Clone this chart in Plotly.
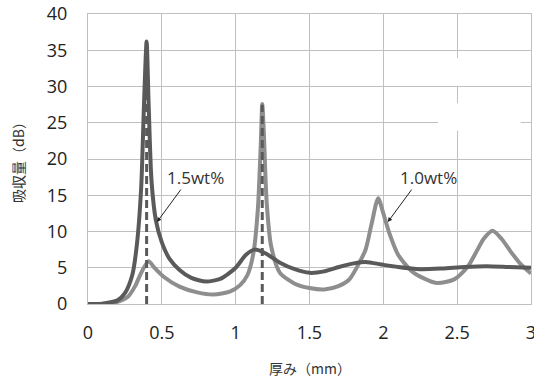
import plotly.graph_objects as go

# 1.5wt% (dark curve)
x15 = [0, 0.1, 0.2, 0.25, 0.3, 0.33, 0.36, 0.38, 0.397, 0.41, 0.43, 0.46, 0.5, 0.55, 0.62, 0.7, 0.8,
       0.9, 1.0, 1.07, 1.13, 1.2, 1.3, 1.4, 1.5, 1.6, 1.7, 1.8, 1.88, 2.0, 2.1, 2.25, 2.4, 2.55, 2.7, 2.85, 3.0]
y15 = [0, 0.05, 0.5, 1.5, 4.0, 8.0, 16.0, 28.0, 36.2, 28.0, 17.0, 11.5, 8.5, 6.3, 4.7, 3.6, 3.1,
       3.5, 5.0, 6.8, 7.5, 7.0, 5.7, 4.8, 4.3, 4.5, 5.1, 5.6, 5.8, 5.4, 5.1, 4.8, 4.9, 5.1, 5.2, 5.1, 5.0]

# 1.0wt% (light curve)
x10 = [0, 0.1, 0.2, 0.27, 0.32, 0.36, 0.41, 0.45, 0.51, 0.62, 0.74, 0.85, 0.96, 1.03, 1.08, 1.12, 1.15,
       1.17, 1.18, 1.19, 1.21, 1.24, 1.3, 1.4, 1.5, 1.6, 1.7, 1.77, 1.84, 1.88, 1.92, 1.965, 2.0, 2.04,
       2.1, 2.2, 2.36, 2.48, 2.57, 2.63, 2.68, 2.74, 2.8, 2.86, 2.93, 3.0]
y10 = [0, 0.05, 0.3, 1.0, 2.5, 4.3, 5.9, 5.0, 3.8, 2.4, 1.6, 1.3, 1.7, 2.6, 4.0, 7.0, 13.0,
       22.0, 27.6, 24.0, 14.0, 8.0, 4.3, 2.8, 2.2, 2.0, 2.5, 3.4, 5.8, 7.5, 11.0, 14.6, 12.5, 9.8,
       6.8, 4.4, 2.9, 3.4, 5.1, 7.2, 9.0, 10.1, 9.0, 7.3, 5.5, 4.2]

# dashed marker lines (x position, height)
dash_x = [0.397, 1.18]
dash_top = [36.0, 27.5]

# labels: text, arrow tip (data), label centre (data)
label_text = ["1.5wt%", "1.0wt%"]
label_tip_x = [0.467, 2.03]
label_tip_y = [11.3, 11.3]
label_x = [0.731, 2.305]
label_y = [17.4, 17.5]

x_ticks = [0, 0.5, 1, 1.5, 2, 2.5, 3]
x_ticktext = ["0", "0.5", "1", "1.5", "2", "2.5", "3"]
y_ticks = [0, 5, 10, 15, 20, 25, 30, 35, 40]

font_jp = "Noto Sans CJK JP"
fig = go.Figure()

fig.add_trace(go.Scatter(x=x10, y=y10, mode="lines", line=dict(color="#8e8e8e", width=4, shape="spline", smoothing=0.7),
                         showlegend=False, hoverinfo="skip"))
fig.add_trace(go.Scatter(x=x15, y=y15, mode="lines", line=dict(color="#5a5a5a", width=4, shape="spline", smoothing=0.7),
                         showlegend=False, hoverinfo="skip"))
for dx, dt in zip(dash_x, dash_top):
    fig.add_trace(go.Scatter(x=[dx, dx], y=[0, dt], mode="lines",
                             line=dict(color="#5a5a5a", width=3, dash="8px,4px"),
                             showlegend=False, hoverinfo="skip"))

# white patches (erased legend area)
for y0, y1 in [(30.1, 33.9), (23.9, 27.7)]:
    fig.add_shape(type="rect", xref="x", yref="y", x0=2.37, x1=2.93, y0=y0, y1=y1,
                  fillcolor="white", line=dict(width=0), layer="above")

for t, tx, ty, lx, ly in zip(label_text, label_tip_x, label_tip_y, label_x, label_y):
    fig.add_annotation(x=tx, y=ty, ax=25, ay=-34, xref="x", yref="y", text="",
                       showarrow=True, arrowhead=2, arrowsize=0.9, arrowwidth=1, arrowcolor="#222")
    fig.add_annotation(x=lx, y=ly, xref="x", yref="y", text=t, showarrow=False,
                       xanchor="center", yanchor="middle",
                       font=dict(family="Open Sans", size=17, color="#333"))

# axis titles
fig.add_annotation(x=0.5, y=0, xref="paper", yref="paper", yshift=-64, text="厚み（mm）",
                   showarrow=False, xanchor="center", yanchor="middle",
                   font=dict(family=font_jp, size=14, color="#333"))
fig.add_annotation(x=0, y=0.5, xref="paper", yref="paper", xshift=-70, text="吸収量（dB）",
                   showarrow=False, xanchor="center", yanchor="middle", textangle=-90,
                   font=dict(family=font_jp, size=14, color="#333"))

fig.update_layout(
    width=534, height=381,
    margin=dict(l=88, r=3, t=14, b=77, autoexpand=False),
    paper_bgcolor="white", plot_bgcolor="white",
    font=dict(family=font_jp, color="#333"),
    xaxis=dict(range=[0, 3], tickvals=x_ticks, ticktext=x_ticktext, showgrid=True, automargin=False,
               gridcolor="#c0c0c0", gridwidth=1.3, showline=True, linecolor="#c0c0c0", linewidth=1.3,
               mirror=True, zeroline=False, ticks="", ticklabelstandoff=12, ticklabeloverflow="allow",
               tickfont=dict(family="Open Sans", size=18, color="#222")),
    yaxis=dict(range=[0, 40], tickvals=y_ticks, showgrid=True, automargin=False,
               gridcolor="#c0c0c0", gridwidth=1.3, showline=True, linecolor="#c0c0c0", linewidth=1.3,
               mirror=True, zeroline=False, ticks="", ticklabelstandoff=16, ticklabeloverflow="allow",
               tickfont=dict(family="Open Sans", size=18, color="#222")),
)

fig.write_html("out.html", config={"displayModeBar": False},
               post_script="document.body.style.margin='0';document.body.style.overflow='hidden';")
